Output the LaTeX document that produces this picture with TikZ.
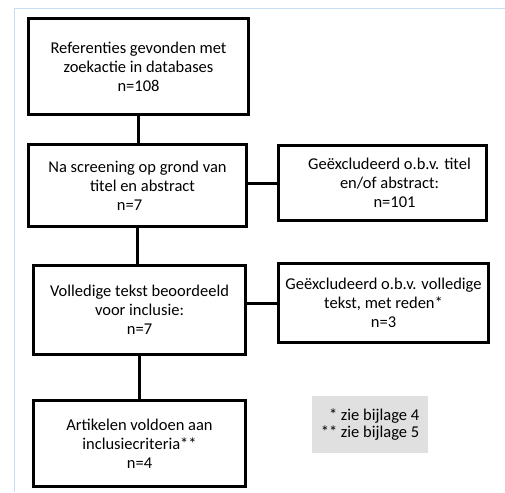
\documentclass[tikz,border=0pt]{standalone}
\usepackage{fontspec}
\setmainfont{Carlito}
\usetikzlibrary{positioning}
\definecolor{framblue}{RGB}{200,220,245}

\begin{document}
\begin{tikzpicture}
[x=1pt,y=-1pt,
 box/.style={shape=rectangle,draw,line width=3pt,align=center,inner sep=0pt,
   font=\fontsize{16.5}{19}\selectfont},
 note/.style={shape=rectangle,fill=black!12,align=right,inner sep=0pt,
   font=\fontsize{16.5}{17.5}\selectfont},
 link/.style={line width=3pt},
 frame/.style={draw=framblue,line width=1pt}]

\useasboundingbox (0,0) rectangle (505,492);
\draw [frame] (505,9) -- (14,9) -- (14,492);

\draw (138.5,66.5) node (refs) [box,minimum width=220pt,minimum height=96pt]
	{Referenties gevonden met\\zoekactie in databases\\n=108};
\draw (137.5,185.5) node (screen) [box,minimum width=218pt,minimum height=82pt]
	{Na screening op grond van\\\hspace*{10pt}titel en abstract\\n=7\hspace*{16pt}};
\draw (382.5,183) node (excl1) [box,minimum width=208pt,minimum height=75pt]
	{\hspace*{14pt}Geëxcludeerd o.b.v. titel\\\hspace*{14pt}en/of abstract:\\\hspace*{24pt}n=101};
\draw (139.5,310) node (full) [box,minimum width=212pt,minimum height=89pt]
	{Volledige tekst beoordeeld\\voor inclusie:\\n=7};
\draw (383.5,303) node (excl2) [box,minimum width=210pt,minimum height=79pt]
	{Geëxcludeerd o.b.v. volledige\\tekst, met reden*\\n=3};
\draw (139.5,443.5) node (incl) [box,minimum width=212pt,minimum height=86pt]
	{Artikelen voldoen aan\\inclusiecriteria**\\n=4};
\draw (370,424.5) node (notes) [note,minimum width=116pt,minimum height=57pt]
	{* zie bijlage 4\\** zie bijlage 5};

\draw [link] (refs.south) -- (refs.south |- screen.north);
\draw [link] (excl1.west -| screen.east) -- (excl1.west);
\draw [link] (screen.south) -- (screen.south |- full.north);
\draw [link] (full.east |- excl2.west) -- (excl2.west);
\draw [link] (full.south) -- (full.south |- incl.north);
\end{tikzpicture}
\end{document}
